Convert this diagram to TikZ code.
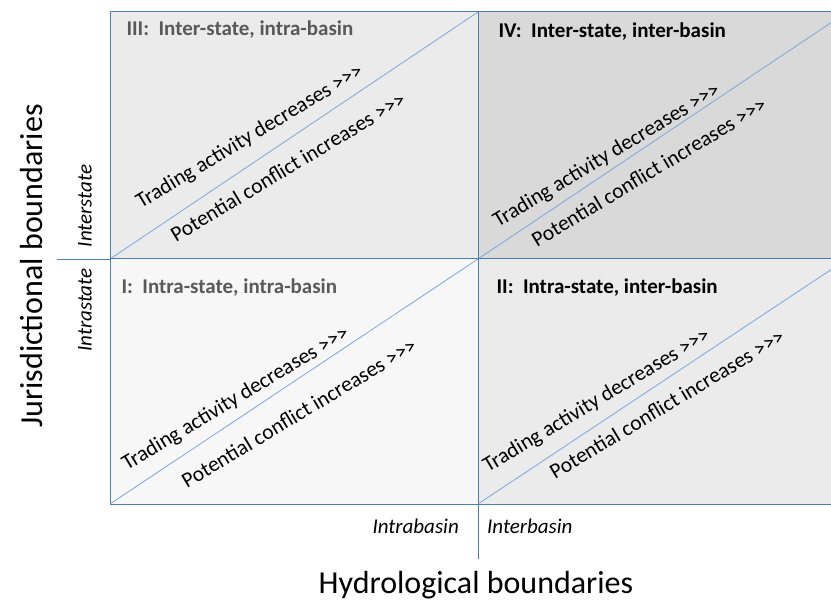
\documentclass[tikz,border=0pt]{standalone}
\usepackage{fontspec}
\setmainfont{Carlito}
\usetikzlibrary{positioning}
\definecolor{edgeblue}{HTML}{4A7EBB}
\definecolor{diagblue}{HTML}{7BA7D9}
\definecolor{titlegray}{HTML}{595959}
\def\QUAD#1#2#3{\filldraw[fill=#3,draw=edgeblue,line width=1pt] (#1) rectangle (#2);
  \draw[diagblue,line width=0.8pt] (#1) -- (#2);}
\def\MORE{>{}>{}>}

\begin{document}
\begin{tikzpicture}[x=1pt,y=-1pt,
  title/.style={font=\bfseries\fontsize{21}{23}\selectfont,anchor=base west},
  trend/.style={font=\fontsize{21.5}{23}\selectfont,rotate=31,inner sep=0pt},
  side/.style={font=\itshape\fontsize{21}{23}\selectfont,inner sep=0pt},
  axis/.style={font=\fontsize{32}{36}\selectfont,inner sep=0pt}]
\useasboundingbox (0,0) rectangle (831,604);
\clip (0,0) rectangle (831,604);
% corners of the grid
\coordinate (bl) at (110,504); \coordinate (bm) at (478,504); \coordinate (br) at (847,504);
\coordinate (ml) at (110,259); \coordinate (mm) at (478,259); \coordinate (mr) at (847,259);
\coordinate (tl) at (110,12);  \coordinate (tm) at (478,12);  \coordinate (tr) at (847,12);
\coordinate (axl) at (57,259); \coordinate (axb) at (478,559);
% quadrants
\QUAD{ml}{tm}{black!8}
\QUAD{mm}{tr}{black!15}
\QUAD{bl}{mm}{black!3}
\QUAD{bm}{mr}{black!8}
\draw[edgeblue,line width=0.8pt] (axl) -- (ml);
\draw[edgeblue,line width=0.8pt] (bm) -- (axb);
% titles
\node[title,text=titlegray] (q3) at (123,36) {III:\ \ Inter-state, intra-basin};
\node[title] (q4) at (495,38) {IV:\ \ Inter-state, inter-basin};
\node[title,text=titlegray] (q1) at (118,294) {I:\ \ Intra-state, intra-basin};
\node[title] (q2) at (493,294) {II:\ \ Intra-state, inter-basin};
% trends
\node[trend] (t3) at (250,137) {Trading activity decreases \MORE};
\node[trend] (p3) at (288,167) {Potential conflict increases \MORE};
\node[trend] (t4) at (607,156) {Trading activity decreases \MORE};
\node[trend] (p4) at (649,172) {Potential conflict increases \MORE};
\node[trend] (t1) at (236,399) {Trading activity decreases \MORE};
\node[trend] (p1) at (299,413) {Potential conflict increases \MORE};
\node[trend] (t2) at (597,401) {Trading activity decreases \MORE};
\node[trend] (p2) at (667,404) {Potential conflict increases \MORE};
% axes
\node[side,anchor=base east] (intra) at (459,533) {Intrabasin};
\node[side,anchor=base west] (inter) at (487,533) {Interbasin};
\node[side,rotate=90] (ist) at (85,206) {Interstate};
\node[side,rotate=90] (rst) at (85,310) {Intrastate};
\node[axis] (hyd) at (476,585) {Hydrological boundaries};
\node[axis,rotate=90] (jur) at (32,266) {Jurisdictional boundaries};
\end{tikzpicture}
\end{document}
